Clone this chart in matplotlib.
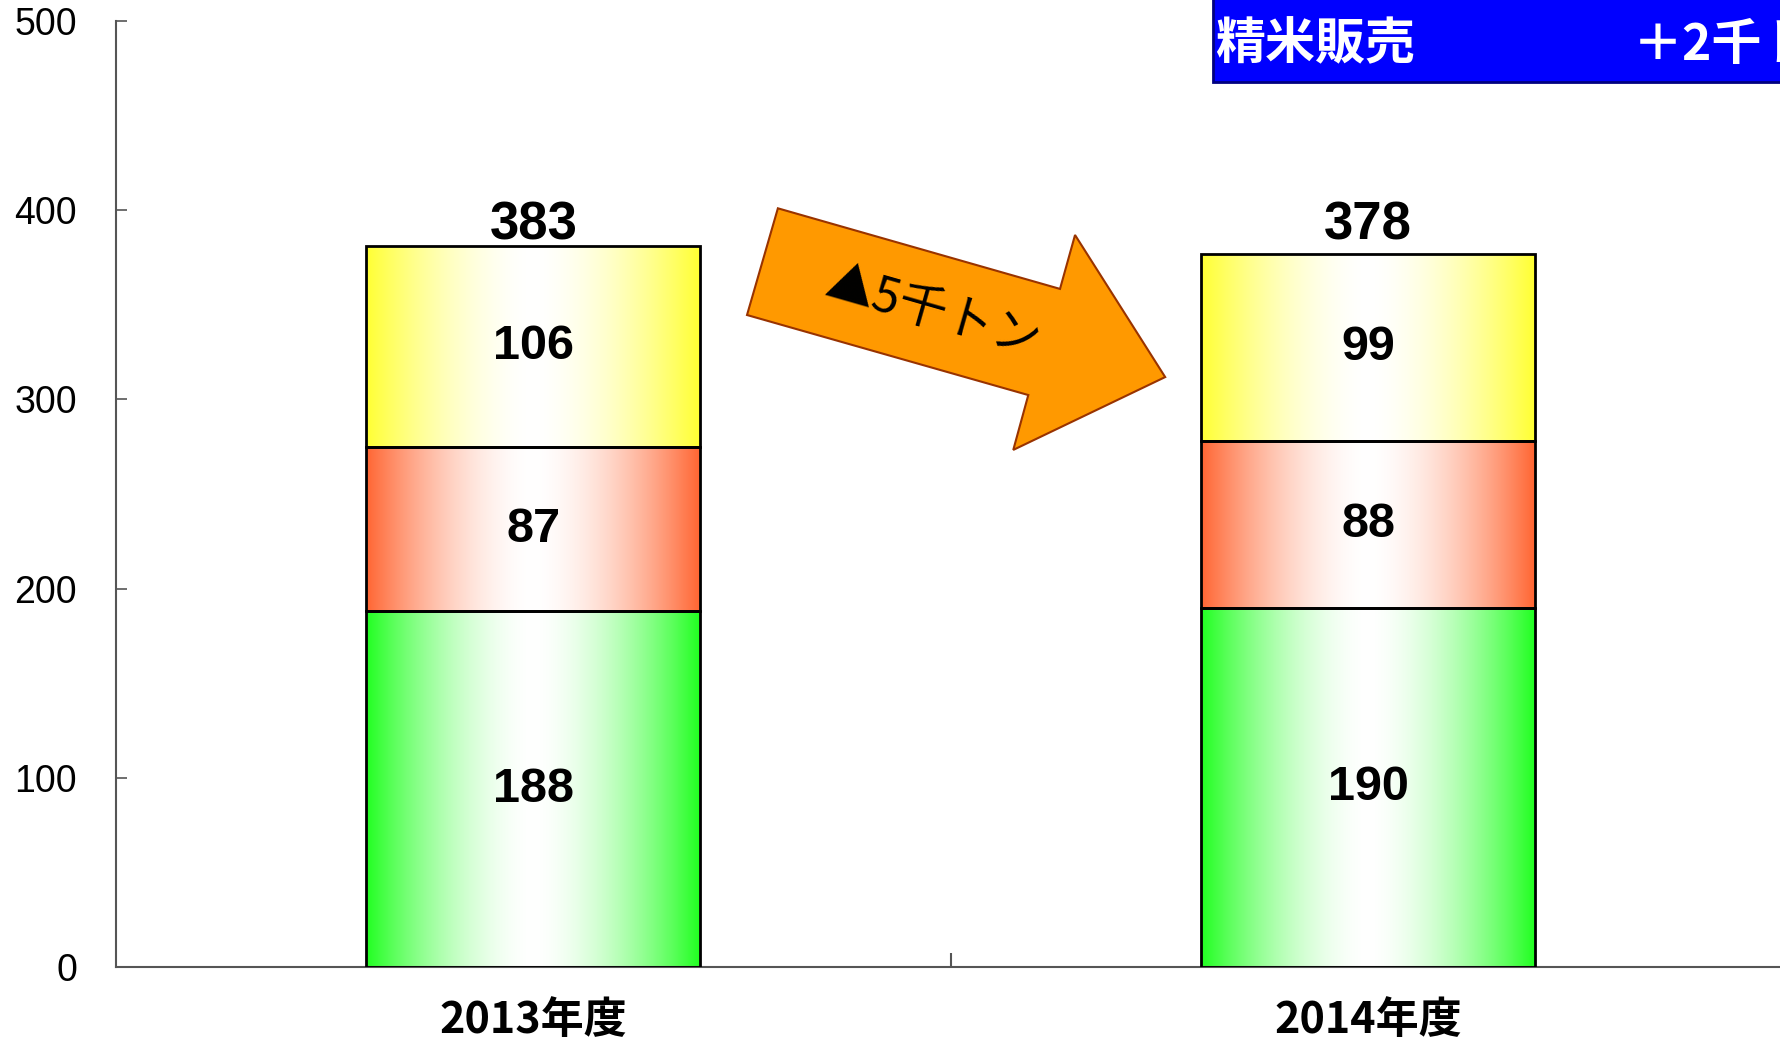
import matplotlib.pyplot as plt
import numpy as np
from matplotlib.patches import Rectangle, Polygon
from matplotlib.colors import to_rgb

plt.rcParams['font.family'] = ['Liberation Sans', 'Noto Sans CJK JP', 'DejaVu Sans']

years = ['2013年度', '2014年度']
green_vals = [188, 190]
red_vals = [87, 88]
yellow_vals = [106, 99]
totals = [383, 378]
change_label = '▲5千トン'
box_title = '精米販売'
box_change = '＋2千トン'

layers = [
	(green_vals, '#22ff22'),
	(red_vals, '#ff6633'),
	(yellow_vals, '#ffff33'),
]

fig = plt.figure(figsize=(17.8, 10.39), dpi=100)
ax = fig.add_axes([116 / 1780, 72 / 1039, 1 - 116 / 1780 + 0.003, 946 / 1039])

x = np.arange(len(years))
width = 0.4

def gradient_bar(ax, xc, bottom, height, color):
	# white in the middle, colour at the edges
	t = np.abs(np.linspace(-1, 1, 256))
	s = np.clip(t, 0, 1) ** 1.7
	c = np.array(to_rgb(color))
	img = (1 - s)[:, None] + s[:, None] * c[None, :]
	img = img[None, :, :]
	rect = Rectangle((xc - width / 2, bottom), width, height, facecolor='none',
		edgecolor='black', linewidth=2, zorder=3)
	ax.add_patch(rect)
	im = ax.imshow(img, extent=(xc - width / 2, xc + width / 2, bottom, bottom + height),
		aspect='auto', interpolation='bilinear', zorder=2)
	im.set_clip_path(rect)

bottoms = np.zeros(len(years))
for vals, color in layers:
	for i, v in enumerate(vals):
		gradient_bar(ax, x[i], bottoms[i], v, color)
		ax.text(x[i], bottoms[i] + v / 2, str(v), ha='center', va='center',
			fontsize=35, fontweight='bold', zorder=4)
	bottoms = bottoms + np.array(vals)

# totals sit on one common line above the tallest bar
label_y = bottoms.max()
for i, tot in enumerate(totals):
	ax.annotate(str(tot), (x[i], label_y), xytext=(0, 5), textcoords='offset points',
		ha='center', va='baseline', fontsize=38, fontweight='bold')

ax.set_xlim(-0.5, 1.5)
ax.set_ylim(0, 500)
ax.set_yticks([0, 100, 200, 300, 400, 500])
ax.tick_params(axis='y', direction='in', length=8, width=1.2, pad=28, labelsize=27, color='#555555')
ax.set_xticks(x)
ax.set_xticklabels(years, fontsize=31, fontweight='bold', family=['Noto Sans CJK JP'])
ax.set_xticks([0.5], minor=True)
ax.tick_params(axis='x', which='major', length=0, pad=22)
ax.tick_params(axis='x', which='minor', direction='in', length=10, width=1.5, color='#555555')
for side in ['top', 'right']:
	ax.spines[side].set_visible(False)
for side in ['left', 'bottom']:
	ax.spines[side].set_color('#555555')
	ax.spines[side].set_linewidth(1.5)

# orange arrow showing the change
arrow_pts = [(0.293, 401), (0.631, 358.4), (0.649, 386.9), (0.757, 311.8),
	(0.575, 273.3), (0.593, 302.3), (0.256, 344.6)]
ax.add_patch(Polygon(arrow_pts, closed=True, facecolor='#ff9900', edgecolor='#993300',
	linewidth=1.5, zorder=5, clip_on=False))
ax.text(0.479, 346, change_label, rotation=-16, ha='center', va='center', fontsize=35,
	family=['Noto Sans CJK JP'], zorder=6, rotation_mode='anchor')

# blue header box
fig.patches.append(Rectangle((1213 / 1780, 1 - 82 / 1039), 0.4, 0.1, transform=fig.transFigure,
	facecolor='#0000ff', edgecolor='#000080', linewidth=2, zorder=10))
fig.text(1215 / 1780, 1 - 45 / 1039, box_title, color='white', fontsize=36, fontweight='bold',
	va='center', ha='left', family=['Noto Sans CJK JP'], zorder=11)
fig.text(1633 / 1780, 1 - 45 / 1039, box_change, color='white', fontsize=36, fontweight='bold',
	va='center', ha='left', family=['Noto Sans CJK JP'], zorder=11)

fig.savefig('out.png', dpi=100)
